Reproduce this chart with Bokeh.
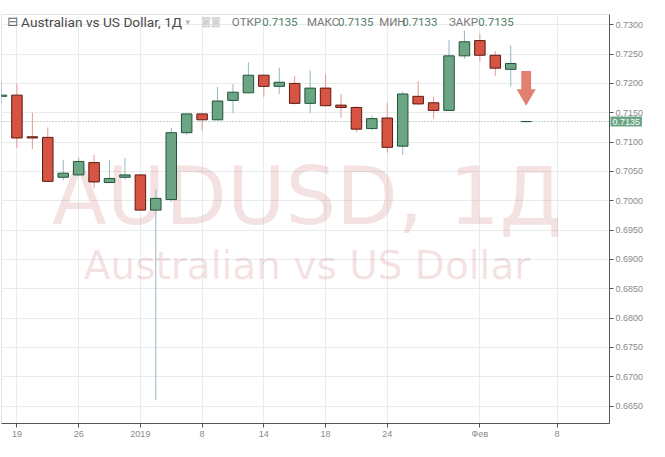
from bokeh.plotting import figure
from bokeh.models import (ColumnDataSource, FixedTicker, Span, Label, Range1d,
                          PrintfTickFormatter)
from bokeh.core.properties import value
from bokeh.embed import file_html
from bokeh.resources import INLINE

# ---------------- data ----------------
bar_index = list(range(-1, 34))
opens = [0.7178, 0.7180, 0.7109, 0.7108, 0.7040, 0.7044, 0.7065, 0.7031, 0.7040,
         0.7044, 0.6984, 0.7002, 0.7116, 0.7148, 0.7138, 0.7171, 0.7184, 0.7214,
         0.7195, 0.7200, 0.7166, 0.7192, 0.7163, 0.7159, 0.7123, 0.7141, 0.7093,
         0.7178, 0.7167, 0.7154, 0.7247, 0.7273, 0.7248, 0.7224, 0.7135]
highs = [0.7204, 0.7200, 0.7150, 0.7125, 0.7070, 0.7074, 0.7078, 0.7070, 0.7073,
         0.7045, 0.7019, 0.7124, 0.7149, 0.7149, 0.7194, 0.7199, 0.7236, 0.7216,
         0.7227, 0.7213, 0.7222, 0.7216, 0.7182, 0.7161, 0.7145, 0.7167, 0.7186,
         0.7204, 0.7177, 0.7274, 0.7290, 0.7285, 0.7255, 0.7265, 0.7135]
lows = [0.7165, 0.7090, 0.7088, 0.7032, 0.7035, 0.7043, 0.7021, 0.7030, 0.7036,
        0.6983, 0.6660, 0.6998, 0.7112, 0.7119, 0.7137, 0.7149, 0.7183, 0.7177,
        0.7182, 0.7164, 0.7149, 0.7161, 0.7141, 0.7117, 0.7120, 0.7082, 0.7078,
        0.7164, 0.7140, 0.7153, 0.7242, 0.7237, 0.7213, 0.7195, 0.7133]
closes = [0.7180, 0.7107, 0.7107, 0.7033, 0.7047, 0.7067, 0.7032, 0.7038, 0.7044,
          0.6984, 0.7004, 0.7116, 0.7148, 0.7138, 0.7170, 0.7185, 0.7214, 0.7195,
          0.7202, 0.7166, 0.7192, 0.7162, 0.7159, 0.7122, 0.7140, 0.7091, 0.7182,
          0.7165, 0.7154, 0.7247, 0.7271, 0.7248, 0.7226, 0.7234, 0.7135]

x_tick_index = [0, 4, 8, 12, 16, 20, 24, 30, 35]
x_tick_labels = ["19", "26", "2019", "8", "14", "18", "24", "Фев", "8"]
y_ticks = [0.6650, 0.6700, 0.6750, 0.6800, 0.6850, 0.6900, 0.6950, 0.7000,
           0.7050, 0.7100, 0.7150, 0.7200, 0.7250, 0.7300]

symbol = "AUDUSD"
interval = "1Д"
description = "Australian vs US Dollar"
ohlc_labels = ["ОТКР", "МАКС", "МИН", "ЗАКР"]
ohlc_values = ["0.7135", "0.7135", "0.7133", "0.7135"]
last_price = 0.7135

# ---------------- styling ----------------
UP_FILL, UP_LINE, UP_WICK = "#6ba583", "#225437", "#94b8c6"
DN_FILL, DN_LINE, DN_WICK = "#d75442", "#5b1a13", "#e39a92"

W, H = 649, 441
FRAME_W = W - 1 - 40
SX = FRAME_W / 621.0
X_END = 38.4

p = figure(width=W, height=H, x_range=Range1d(-1.0, X_END),
           y_range=Range1d(0.66202, 0.73175), output_backend="svg",
           toolbar_location=None, y_axis_location="right",
           min_border_left=1, min_border_top=14, min_border_right=40,
           min_border_bottom=15)
p.background_fill_color = "white"
p.border_fill_color = "white"
p.outline_line_color = "#e0e3e6"

for ax in (p.xaxis[0], p.yaxis[0]):
    ax.axis_line_color = "#555555"
    ax.major_tick_line_color = "#555555"
    ax.major_tick_out = 4
    ax.major_tick_in = 0
    ax.minor_tick_line_color = None
    ax.major_label_text_font = "Liberation Sans"
    ax.major_label_text_font_size = "9px"
    ax.major_label_text_color = "#8a8a8a"
    ax.major_label_standoff = 2
p.xaxis[0].major_label_standoff = 1

p.yaxis[0].ticker = FixedTicker(ticks=y_ticks)
p.yaxis[0].formatter = PrintfTickFormatter(format="%.4f")
p.xaxis[0].ticker = FixedTicker(ticks=x_tick_index)
p.xaxis[0].major_label_overrides = {t: l for t, l in zip(x_tick_index, x_tick_labels)}

p.xgrid.grid_line_color = "#e9ecef"
p.ygrid.grid_line_color = "#e9ecef"

# watermark
WM_COLOR, WM_ALPHA = "#b94a48", 0.16
p.text(x=[18.8], y=[0.7008], text=[f"{symbol}, {interval}"],
       text_font=value("DejaVu Sans"), text_font_size="80px",
       text_align="center", text_baseline="alphabetic",
       text_color=WM_COLOR, text_alpha=WM_ALPHA)
p.text(x=[18.8], y=[0.6889], text=[description],
       text_font=value("DejaVu Sans"), text_font_size="39px",
       text_align="center", text_baseline="alphabetic",
       text_color=WM_COLOR, text_alpha=WM_ALPHA)

# last price dotted line
p.add_layout(Span(location=last_price, dimension="width", line_color="#7fa894",
                  line_dash="1 2", line_width=1, level="underlay"))

# candles
up = [c >= o for o, c in zip(opens, closes)]
src = ColumnDataSource(dict(
    x=bar_index, open=opens, close=closes, high=highs, low=lows,
    top=[max(o, c) for o, c in zip(opens, closes)],
    bottom=[min(o, c) for o, c in zip(opens, closes)],
    fill=[UP_FILL if u else DN_FILL for u in up],
    line=[UP_LINE if u else DN_LINE for u in up],
    wick=[UP_WICK if u else DN_WICK for u in up],
))
p.segment(x0="x", y0="low", x1="x", y1="high", line_color="wick", line_width=1, source=src)
p.vbar(x="x", width=0.68, top="top", bottom="bottom", fill_color="fill",
       line_color="line", line_width=1, source=src)

# down arrow above the current bar
ax_c, a_top, a_neck, a_tip = 33.0, 0.7221, 0.7190, 0.7162
sw, hw = 0.32, 0.62
p.patch([ax_c - sw, ax_c + sw, ax_c + sw, ax_c + hw, ax_c, ax_c - hw, ax_c - sw],
        [a_top, a_top, a_neck, a_neck, a_tip, a_neck, a_neck],
        fill_color="#e07a6b", line_color=None, fill_alpha=0.95)

# header legend
hy = 0.73055
def hx(ref_x):
    return (ref_x - 2) * SX

p.add_layout(Label(x=hx(8), y=hy, x_units="screen", y_units="data", text="⊟",
                   text_font="DejaVu Sans", text_font_size="13px",
                   text_color="#666666", text_baseline="middle"))
p.add_layout(Label(x=hx(22), y=hy, x_units="screen", y_units="data",
                   text=f"{description}, {interval}", text_font="Roboto",
                   text_font_size="13.7px", text_color="#4a4a4a", text_baseline="middle"))
p.add_layout(Label(x=hx(190), y=hy, x_units="screen", y_units="data", text="▾",
                   text_font="DejaVu Sans", text_font_size="9px",
                   text_color="#b0b0b0", text_baseline="middle"))
p.add_layout(Label(x=hx(206), y=hy, x_units="screen", y_units="data", text="◙◙",
                   text_font="DejaVu Sans", text_font_size="10px",
                   text_color="#d2d2d2", text_baseline="middle"))
label_x = [237.3, 314.0, 387.7, 459.0]
value_x = [268.3, 345.7, 411.2, 489.0]
for lab, val, lx, vx in zip(ohlc_labels, ohlc_values, label_x, value_x):
    p.add_layout(Label(x=hx(lx), y=hy, x_units="screen", y_units="data", text=lab,
                       text_font="Roboto", text_font_size="11.5px",
                       text_color="#777777", text_baseline="middle"))
    p.add_layout(Label(x=hx(vx), y=hy, x_units="screen", y_units="data", text=val,
                       text_font="Roboto", text_font_size="11.5px",
                       text_color="#4f7f68", text_baseline="middle"))

# price label on the axis (kept in the top side panel so that it is not
# clipped to the frame; its position is still given in data units)
p.add_layout(Label(x=X_END, y=last_price, x_units="data", y_units="data",
                   x_offset=1, text=f"{last_price:.4f}", text_font="Liberation Sans",
                   text_font_size="9px", text_color="white", text_baseline="middle",
                   background_fill_color=UP_FILL, padding=2), "above")

open("out.html", "w").write(file_html(p, INLINE))
